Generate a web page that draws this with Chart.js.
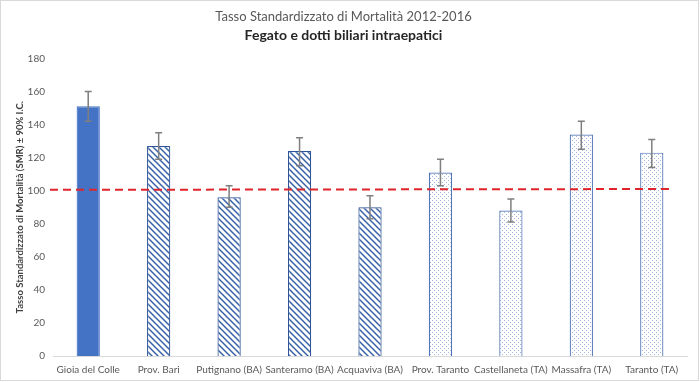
<!DOCTYPE html>
<html>
<head>
<meta charset="utf-8">
<script src="https://cdn.jsdelivr.net/npm/chart.js@4"></script>
<style>
  body { margin: 0; background: #fff; }
  #wrap { width: 700px; height: 382px; }
</style>
</head>
<body>
<div id="wrap"><canvas id="myChart" width="700" height="382"></canvas></div>
<script>
// Data
const labels = ['Gioia del Colle', 'Prov. Bari', 'Putignano (BA)', 'Santeramo (BA)', 'Acquaviva (BA)', 'Prov. Taranto', 'Castellaneta (TA)', 'Massafra (TA)', 'Taranto (TA)'];
const smr = [151, 127, 96, 124, 90, 111, 88, 134, 123];
const ciLow = [142, 119, 90, 115, 83, 103, 81, 125, 114];
const ciHigh = [160, 135, 103, 132, 97, 119, 95, 142, 131];
const refLine = [100.5, 101];
const yTicks = [0, 20, 40, 60, 80, 100, 120, 140, 160, 180];

// Patterns
function stripes() {
    const c = document.createElement('canvas');
    c.width = 6; c.height = 6;
    const g = c.getContext('2d');
    g.fillStyle = '#fff';
    g.fillRect(0, 0, 6, 6);
    g.strokeStyle = '#3A62A8';
    g.lineWidth = 1.5;
    g.beginPath();
    g.moveTo(-1, -1); g.lineTo(7, 7);
    g.moveTo(-4, 2); g.lineTo(1, 7);
    g.moveTo(2, -4); g.lineTo(7, 1);
    g.stroke();
    return g.createPattern(c, 'repeat');
}

function dots() {
    const c = document.createElement('canvas');
    c.width = 4; c.height = 4;
    const g = c.getContext('2d');
    g.fillStyle = '#fff';
    g.fillRect(0, 0, 4, 4);
    g.fillStyle = '#9FB6E0';
    g.fillRect(0, 0, 1, 1);
    g.fillRect(2, 2, 1, 1);
    return g.createPattern(c, 'repeat');
}

const striped = stripes();
const dotted = dots();
const fills = labels.map((l, i) => i === 0 ? '#4472C4' : (i < 5 ? striped : dotted));
const borders = labels.map((l, i) => i === 0 ? '#4472C4' : (i < 5 ? '#2F5597' : '#4F74B5'));

// Error bars, reference line, frame
const extras = {
    id: 'extras',
    beforeDraw(chart) {
        const c = chart.ctx;
        c.save();
        c.fillStyle = '#fff';
        c.fillRect(0, 0, chart.width, chart.height);
        c.strokeStyle = '#D9D9D9';
        c.lineWidth = 1;
        c.strokeRect(0.5, 0.5, chart.width - 2, chart.height - 2);
        c.restore();
    },
    afterDatasetsDraw(chart) {
        const c = chart.ctx;
        const x = chart.scales.x, y = chart.scales.y;
        c.save();
        // error bars
        c.strokeStyle = '#7F7F7F';
        c.lineWidth = 1.5;
        labels.forEach((l, i) => {
            const px = x.getPixelForValue(i);
            const top = y.getPixelForValue(ciHigh[i]);
            const bot = y.getPixelForValue(ciLow[i]);
            c.beginPath();
            c.moveTo(px, top); c.lineTo(px, bot);
            c.moveTo(px - 3.5, top); c.lineTo(px + 3.5, top);
            c.moveTo(px - 3.5, bot); c.lineTo(px + 3.5, bot);
            c.stroke();
        });
        // reference line
        c.strokeStyle = '#E0242B';
        c.lineWidth = 2;
        c.setLineDash([8, 5]);
        c.beginPath();
        c.moveTo(chart.chartArea.left - 3, y.getPixelForValue(refLine[0]));
        c.lineTo(x.getPixelForValue(labels.length - 1) + 20, y.getPixelForValue(refLine[1]));
        c.stroke();
        c.restore();
    }
};

const ctx = document.getElementById('myChart').getContext('2d');
const chart = new Chart(ctx, {
    type: 'bar',
    data: {
        labels: labels,
        datasets: [{
            label: 'SMR',
            data: smr,
            backgroundColor: fills,
            borderColor: borders,
            borderWidth: 1.2,
            categoryPercentage: 1,
            barPercentage: 0.33
        }]
    },
    options: {
        responsive: false,
        animation: false,
        layout: { padding: { left: 0, right: 13, top: 0, bottom: 6 } },
        plugins: {
            legend: { display: false },
            tooltip: { enabled: false },
            title: {
                display: true,
                text: 'Tasso Standardizzato di Mortalità 2012-2016',
                color: '#595959',
                font: { family: 'Lato, "Open Sans", sans-serif', size: 13, weight: 'normal' },
                padding: { top: 9, bottom: 2 }
            },
            subtitle: {
                display: true,
                text: 'Fegato e dotti biliari intraepatici',
                color: '#262626',
                font: { family: 'Lato, "Open Sans", sans-serif', size: 14, weight: 'bold' },
                padding: { top: 0, bottom: 15 }
            }
        },
        scales: {
            x: {
                afterFit(scale) { scale.height = 20; },
                grid: { display: false, drawTicks: false, tickLength: 0 },
                border: { color: '#D9D9D9' },
                ticks: {
                    color: '#595959',
                    padding: 8,
                    maxRotation: 0,
                    autoSkip: false,
                    font: { family: 'Lato, "Open Sans", sans-serif', size: 10 }
                }
            },
            y: {
                min: 0,
                max: 180,
                afterFit(scale) { scale.width = 53; },
                afterBuildTicks(scale) { scale.ticks = yTicks.map(v => ({ value: v })); },
                grid: { display: false, drawTicks: false, tickLength: 0 },
                border: { display: false },
                ticks: {
                    color: '#595959',
                    padding: 8,
                    font: { family: 'Lato, "Open Sans", sans-serif', size: 10 }
                },
                title: {
                    display: true,
                    text: 'Tasso Standardizzato di Mortalità (SMR) ± 90% I.C.',
                    color: '#404040',
                    padding: { top: 14, bottom: 0 },
                    font: { family: 'Lato, "Open Sans", sans-serif', size: 9.5, weight: 'bold' }
                }
            }
        }
    },
    plugins: [extras]
});
</script>
</body>
</html>
